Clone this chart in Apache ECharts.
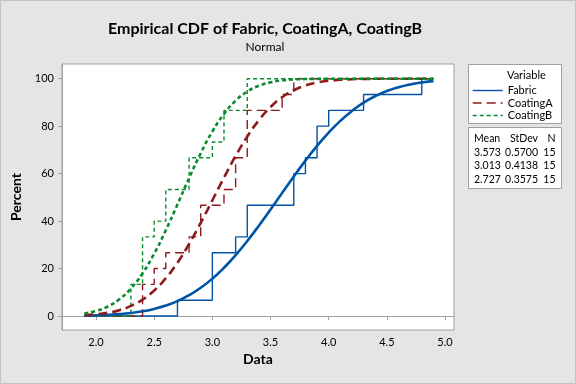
<!DOCTYPE html>
<html><head><meta charset="utf-8">
<script src="https://cdn.jsdelivr.net/npm/echarts@6/dist/echarts.min.js"></script>
<style>html,body{margin:0;padding:0;background:#e5e5e5}#c{width:576px;height:384px}</style>
</head><body><div id="c"></div><script>
// Observed data (distinct values and how many times each occurs)
const fabricValues = [2.7, 3.0, 3.2, 3.3, 3.7, 3.8, 3.9, 4.0, 4.3, 4.8];
const fabricCounts = [1, 3, 1, 2, 2, 1, 2, 1, 1, 1];
const coatingAValues = [2.4, 2.5, 2.6, 2.8, 2.9, 3.1, 3.2, 3.3, 3.6, 3.7];
const coatingACounts = [2, 1, 1, 1, 2, 1, 2, 3, 1, 1];
const coatingBValues = [2.3, 2.4, 2.5, 2.6, 2.8, 3.0, 3.1, 3.3];
const coatingBCounts = [2, 3, 1, 2, 2, 1, 2, 2];
const drawRange = [1.9, 4.9];

// Fitted normal CDF (percent) read at these x positions
const fitX = [1.9,2.0,2.1,2.2,2.3,2.4,2.5,2.6,2.7,2.8,2.9,3.0,3.1,3.2,3.3,3.4,3.5,3.6,3.7,3.8,3.9,4.0,4.1,4.2,4.3,4.4,4.5,4.6,4.7,4.8,4.9];
const fabricFit = [0.17,0.29,0.49,0.80,1.28,1.98,2.99,4.39,6.28,8.75,11.88,15.74,20.33,25.65,31.60,38.06,44.91,51.89,58.82,65.48,71.69,77.31,82.25,86.43,89.89,92.66,94.80,96.42,97.60,98.43,99.00];
const coatingAFit = [0.36,0.72,1.37,2.47,4.24,6.93,10.75,15.91,22.48,30.33,39.24,48.75,58.32,67.44,75.61,82.51,88.04,92.20,95.15,97.14,98.40,99.15,99.57,99.79,99.91,99.96,99.98,99.99,100,100,100];
const coatingBFit = [1.04,2.10,3.97,7.02,11.62,18.01,26.27,36.13,46.99,58.10,68.58,77.75,85.15,90.71,94.55,97.01,98.47,99.27,99.68,99.87,99.95,99.98,99.99,100,100,100,100,100,100,100,100];

const xTicks = [2.0, 2.5, 3.0, 3.5, 4.0, 4.5, 5.0];
const yTicks = [0, 20, 40, 60, 80, 100];

const seriesNames = ['Fabric', 'CoatingA', 'CoatingB'];
const statHeaders = ['Mean', 'StDev', 'N'];
const statMean = ['3.573', '3.013', '2.727'];
const statStDev = ['0.5700', '0.4138', '0.3575'];
const statN = ['15', '15', '15'];

function ecdf(values, counts, range) {
  const n = counts.reduce((a, b) => a + b, 0);
  const pts = [[range[0], 0]];
  let cum = 0;
  values.forEach((v, i) => { cum += counts[i]; pts.push([v, cum / n * 100]); });
  pts.push([range[1], 100]);
  return pts;
}
const zip = (xs, ys) => xs.map((x, i) => [x, ys[i]]);

const colors = ['#0054a6', '#8e1b1b', '#0a8a2e'];
const dashes = ['solid', [9, 5], [4, 3]];
const font = 'Lato';
const smallFont = '11px Lato';
const statFont = '10.5px Lato';

const chart = echarts.init(document.getElementById('c'));
const textStats = [];
const colX = [474, 538, 555.5];
const colAlign = ['left', 'right', 'right'];
const rowsY = [139, 152.3, 165.7, 179.7];
const columns = [statMean, statStDev, statN];
rowsY.forEach((y, r) => {
  columns.forEach((col, c) => {
    const txt = r === 0 ? statHeaders[c] : col[r - 1];
    textStats.push({type: 'text', x: colX[c], y: y, silent: true,
      style: {text: txt, fill: '#000', font: statFont, align: colAlign[c], verticalAlign: 'middle'}});
  });
});

const option = {
  backgroundColor: '#e5e5e5',
  animation: false,
  title: [
    {text: 'Empirical CDF of Fabric, CoatingA, CoatingB', left: 260, top: 16, textAlign: 'center',
     textStyle: {fontFamily: font, fontSize: 16, fontWeight: 'bold', color: '#000'}},
    {text: 'Normal', left: 260, top: 36, textAlign: 'center',
     textStyle: {fontFamily: font, fontSize: 12, fontWeight: 'normal', color: '#000'}}
  ],
  grid: {left: 62, top: 64, width: 392, height: 266, show: true, backgroundColor: '#fff', borderColor: '#a0a0a0', borderWidth: 1},
  xAxis: {
    type: 'value', min: 1.7077, max: 5.077,
    name: 'Data', nameLocation: 'middle', nameGap: 22,
    nameTextStyle: {fontFamily: font, fontSize: 14, fontWeight: 'bold', color: '#000'},
    axisLine: {show: true, lineStyle: {color: '#a0a0a0'}},
    axisTick: {show: true, length: 4, customValues: xTicks, lineStyle: {color: '#a0a0a0'}},
    axisLabel: {customValues: xTicks, margin: 7, fontFamily: font, fontSize: 11, color: '#000', formatter: v => v.toFixed(1)},
    splitLine: {show: false}
  },
  yAxis: {
    type: 'value', min: -5.9, max: 106.2,
    name: 'Percent', nameLocation: 'middle', nameGap: 25, nameRotate: 90,
    nameTextStyle: {fontFamily: font, fontSize: 14, fontWeight: 'bold', color: '#000'},
    axisLine: {show: true, lineStyle: {color: '#a0a0a0'}},
    axisTick: {show: true, length: 4, customValues: yTicks, lineStyle: {color: '#a0a0a0'}},
    axisLabel: {customValues: yTicks, margin: 8, fontFamily: font, fontSize: 11, color: '#000'},
    splitLine: {show: false}
  },
  legend: {
    data: seriesNames, orient: 'vertical', left: 467, top: 80, itemWidth: 30, itemHeight: 12, itemGap: 1.5,
    itemStyle: {opacity: 0}, lineStyle: {width: 1.4},
    textStyle: {fontFamily: font, fontSize: 11, color: '#000'}, selectedMode: false
  },
  graphic: [
    {type: 'rect', shape: {x: 0.5, y: 0.5, width: 575, height: 383}, style: {fill: 'none', stroke: '#c4c4c4', lineWidth: 1}, silent: true},
    {type: 'rect', shape: {x: 468.5, y: 64.5, width: 93, height: 59}, style: {fill: '#fff', stroke: '#a0a0a0', lineWidth: 1}, silent: true, z: -1},
    {type: 'rect', shape: {x: 468.5, y: 127.5, width: 93, height: 61}, style: {fill: '#fff', stroke: '#a0a0a0', lineWidth: 1}, silent: true, z: -1},
    {type: 'text', x: 507, y: 75, silent: true, style: {text: 'Variable', fill: '#000', font: smallFont, verticalAlign: 'middle'}},
    ...textStats
  ],
  series: [
    {name: 'Fabric', type: 'line', step: 'end', data: ecdf(fabricValues, fabricCounts, drawRange), showSymbol: false, symbol: 'none',
     lineStyle: {color: colors[0], width: 1.4, type: dashes[0]}, itemStyle: {color: colors[0]}},
    {name: 'CoatingA', type: 'line', step: 'end', data: ecdf(coatingAValues, coatingACounts, drawRange), showSymbol: false, symbol: 'none',
     lineStyle: {color: colors[1], width: 1.4, type: dashes[1]}, itemStyle: {color: colors[1]}},
    {name: 'CoatingB', type: 'line', step: 'end', data: ecdf(coatingBValues, coatingBCounts, drawRange), showSymbol: false, symbol: 'none',
     lineStyle: {color: colors[2], width: 1.4, type: dashes[2]}, itemStyle: {color: colors[2]}},
    {name: 'Fabric fit', type: 'line', smooth: 0.5, data: zip(fitX, fabricFit), showSymbol: false, symbol: 'none',
     lineStyle: {color: colors[0], width: 2.6, type: dashes[0]}},
    {name: 'CoatingA fit', type: 'line', smooth: 0.5, data: zip(fitX, coatingAFit), showSymbol: false, symbol: 'none',
     lineStyle: {color: colors[1], width: 2.6, type: dashes[1]}},
    {name: 'CoatingB fit', type: 'line', smooth: 0.5, data: zip(fitX, coatingBFit), showSymbol: false, symbol: 'none',
     lineStyle: {color: colors[2], width: 2.6, type: dashes[2]}}
  ]
};
chart.setOption(option);
</script></body></html>
